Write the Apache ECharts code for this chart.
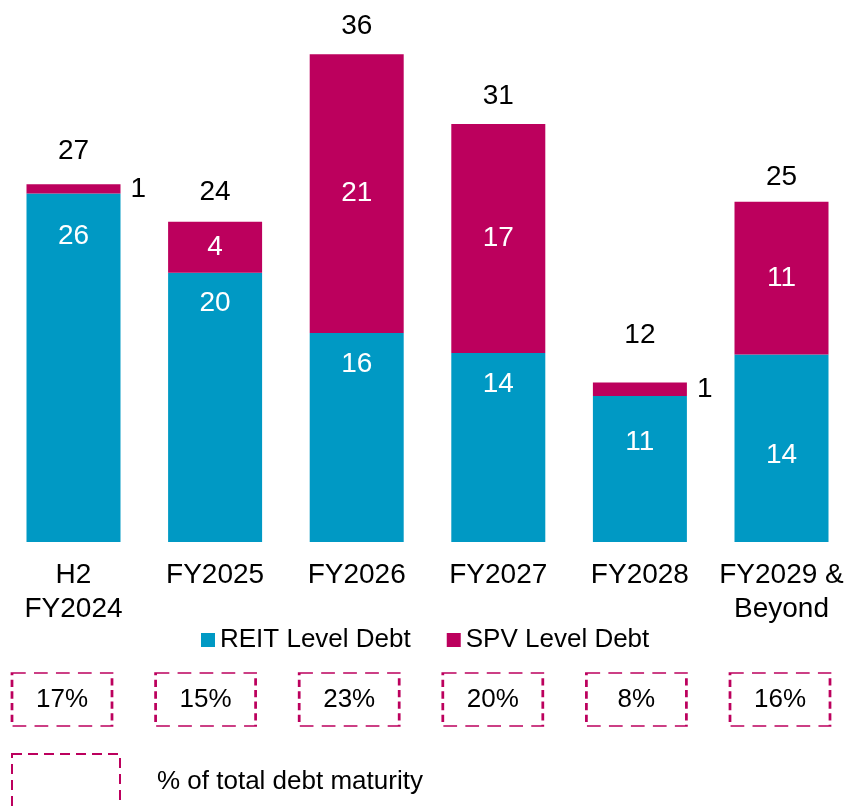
<!DOCTYPE html>
<html>
<head>
<meta charset="utf-8">
<title>Debt maturity</title>
<script src="https://cdn.jsdelivr.net/npm/echarts@6/dist/echarts.min.js"></script>
<style>
html, body { margin: 0; padding: 0; background: #fff; }
#chart { width: 850px; height: 806px; }
</style>
</head>
<body>
<div id="chart"></div>
<script>
// values
var categories = ['H2\nFY2024', 'FY2025', 'FY2026', 'FY2027', 'FY2028', 'FY2029 &\nBeyond'];
var reitDebt = [26.0, 20.1, 15.6, 14.1, 10.9, 14.0];
var spvDebt = [0.7, 3.8, 20.8, 17.1, 1.0, 11.4];
var totalDebt = [27, 24, 36, 31, 12, 25];
var shareOfTotal = [17, 15, 23, 20, 8, 16];

// label placement (the source labels were nudged by hand)
var reitLabelGap = [28.5, 17, 17.5, 17.5, 32.5, 87];
var totalLabelGap = [19, 15, 14, 14, 33.5, 10];

var TEAL = '#0099c4';
var MAGENTA = '#bc005d';
var FONT = '"Liberation Sans", Arial, sans-serif';

var chart = echarts.init(document.getElementById('chart'));

var reitData = reitDebt.map(function(v, i) {
	return { value: v, label: { distance: reitLabelGap[i] } };
});

var spvData = spvDebt.map(function(v) {
	if(v < 2) { // tiny slice -> label sits beside the bar
		return { value: v, label: { position: 'right', color: '#000', distance: 10 } };
	}
	return v;
});

var totalData = reitDebt.map(function(v, i) {
	return { value: v + spvDebt[i], label: { distance: totalLabelGap[i] } };
});

var option = {
	animation: false,
	textStyle: { fontFamily: FONT },
	grid: [
		{ left: 73.5, right: 68.5, top: 6, bottom: 264 },
		{ left: 62, right: 70, top: 673, height: 53 }
	],
	legend: {
		data: ['REIT Level Debt', 'SPV Level Debt'],
		left: 196,
		top: 622,
		icon: 'rect',
		itemWidth: 14,
		itemHeight: 14,
		itemGap: 36,
		textStyle: { fontSize: 26, color: '#000', fontFamily: FONT }
	},
	xAxis: [{
		type: 'category',
		gridIndex: 0,
		data: categories,
		boundaryGap: false,
		axisLine: { show: false },
		axisTick: { show: false },
		axisLabel: {
			interval: 0,
			margin: 16,
			fontSize: 28,
			lineHeight: 34,
			color: '#000',
			fontFamily: FONT
		}
	}, {
		type: 'category',
		gridIndex: 1,
		data: categories,
		boundaryGap: false,
		show: false
	}],
	yAxis: [{
		type: 'value',
		gridIndex: 0,
		min: 0,
		max: 40,
		show: false
	}, {
		type: 'value',
		gridIndex: 1,
		min: 0,
		max: 1,
		show: false
	}],
	series: [{
		name: 'REIT Level Debt',
		type: 'bar',
		stack: 'debt',
		barWidth: 94,
		itemStyle: { color: TEAL },
		label: {
			show: true,
			position: 'insideTop',
			color: '#fff',
			fontSize: 28,
			lineHeight: 28,
			fontFamily: FONT,
			formatter: function(p) { return Math.round(p.value); }
		},
		data: reitData
	}, {
		name: 'SPV Level Debt',
		type: 'bar',
		stack: 'debt',
		barWidth: 94,
		itemStyle: { color: MAGENTA },
		label: {
			show: true,
			position: 'inside',
			color: '#fff',
			fontSize: 28,
			lineHeight: 28,
			fontFamily: FONT,
			formatter: function(p) { return Math.round(p.value); }
		},
		data: spvData
	}, {
		name: 'total',
		type: 'scatter',
		symbolSize: 0,
		silent: true,
		itemStyle: { opacity: 1 },
		label: {
			show: true,
			position: 'top',
			color: '#000',
			fontSize: 28,
			lineHeight: 28,
			fontFamily: FONT,
			formatter: function(p) { return totalDebt[p.dataIndex]; }
		},
		data: totalData
	}, {
		name: 'share',
		type: 'scatter',
		xAxisIndex: 1,
		yAxisIndex: 1,
		symbol: 'rect',
		symbolSize: [100, 53],
		silent: true,
		itemStyle: {
			opacity: 1,
			color: 'rgba(255,255,255,0)',
			borderColor: MAGENTA,
			borderWidth: 2,
			borderType: [10, 6]
		},
		label: {
			show: true,
			position: 'inside',
			color: '#000',
			fontSize: 26,
			fontFamily: FONT,
			formatter: function(p) { return shareOfTotal[p.dataIndex] + '%'; }
		},
		data: shareOfTotal.map(function() { return 0.5; })
	}],
	graphic: [{
		type: 'rect',
		shape: { x: 12, y: 754, width: 108, height: 70 },
		style: { fill: 'none', stroke: MAGENTA, lineWidth: 2, lineDash: [10, 6] }
	}, {
		type: 'text',
		x: 157,
		y: 782,
		style: {
			text: '% of total debt maturity',
			fontSize: 26,
			fontFamily: FONT,
			fill: '#000',
			verticalAlign: 'middle'
		}
	}]
};

chart.setOption(option);
</script>
</body>
</html>
